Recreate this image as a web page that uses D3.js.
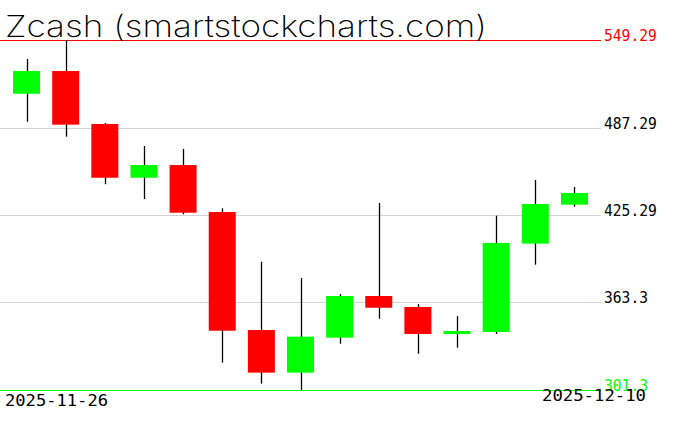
<!DOCTYPE html>
<html><head><meta charset="utf-8">
<script src="https://cdn.jsdelivr.net/npm/d3@7"></script>
<style>body{margin:0;background:#fff}svg{display:block}</style>
</head><body><svg id="c" width="676" height="431"></svg>
<script>
const dates = ["2025-11-26","2025-11-27","2025-11-28","2025-11-29","2025-11-30","2025-12-01","2025-12-02","2025-12-03","2025-12-04","2025-12-05","2025-12-06","2025-12-07","2025-12-08","2025-12-09","2025-12-10"];
const open  = [511.2,527.3,489.8,451.7,460.7,427.4,343.8,313.6,338.4,367.9,360.1,341.0,342.4,405.0,432.6];
const high  = [535.8,549.29,490.5,474.2,472.1,430.0,392.2,380.7,369.3,433.8,362.2,353.7,424.8,450.1,445.1];
const low   = [491.4,480.8,447.1,436.6,425.8,320.7,305.8,301.3,334.1,351.8,327.0,331.3,341.0,390.1,431.2];
const close = [527.3,489.3,451.7,460.7,426.9,343.3,313.6,339.1,367.9,359.6,341.0,343.1,405.5,433.1,440.9];
const tickValues = [549.29,487.29,425.29,363.3,301.3];
const tickLabels = ["549.29","487.29","425.29","363.3","301.3"];
const title = "Zcash (smartstockcharts.com)";

const svg = d3.select("#c");
const y = d3.scaleLinear().domain([301.3,549.29]).range([390,40]);
const x = d3.scaleBand().domain(dates).range([7,594]).paddingInner(0.31).paddingOuter(0.155);
const mono = "'DejaVu Sans Mono', monospace";

// grid lines
tickValues.forEach((v,i)=>{
  const col = i===0 ? "#ff0000" : (i===tickValues.length-1 ? "#00ff00" : "#d3d3d3");
  const yy = Math.round(y(v))+0.5;
  svg.append("line").attr("x1",0).attr("x2",601).attr("y1",yy).attr("y2",yy)
    .attr("stroke",col).attr("stroke-width",1);
  const tcol = i===0 ? "#ff0000" : (i===tickValues.length-1 ? "#00ff00" : "#000");
  svg.append("text").attr("x",604).attr("y",Math.round(y(v))+1)
    .attr("font-family",mono).attr("font-size",15).attr("fill",tcol)
    .attr("textLength",tickLabels[i].length*8.8).attr("lengthAdjust","spacingAndGlyphs")
    .text(tickLabels[i]);
});

const data = dates.map((d,i)=>({d,o:open[i],h:high[i],l:low[i],c:close[i]}));
const g = svg.append("g");
g.selectAll("line.w").data(data).join("line")
  .attr("x1",d=>Math.round(x(d.d)+x.bandwidth()/2)+0.5)
  .attr("x2",d=>Math.round(x(d.d)+x.bandwidth()/2)+0.5)
  .attr("y1",d=>y(d.h)).attr("y2",d=>y(d.l))
  .attr("stroke","#000").attr("stroke-width",1.3);
g.selectAll("rect").data(data).join("rect")
  .attr("x",d=>x(d.d)).attr("width",x.bandwidth())
  .attr("y",d=>y(Math.max(d.o,d.c)))
  .attr("height",d=>Math.max(1,Math.abs(y(d.o)-y(d.c))))
  .attr("fill",d=>d.c>=d.o?"#00ff00":"#ff0000");

// title
svg.append("text").attr("x",5).attr("y",37)
  .attr("font-family","Inter, 'DejaVu Sans', sans-serif").attr("font-weight",200)
  .attr("font-size",30).attr("fill","#000")
  .attr("textLength",482).attr("lengthAdjust","spacingAndGlyphs").text(title);

// date labels
svg.append("text").attr("x",5).attr("y",406)
  .attr("font-family",mono).attr("font-size",16).attr("fill","#000")
  .attr("textLength",103).attr("lengthAdjust","spacingAndGlyphs").text(dates[0]);
svg.append("text").attr("x",542).attr("y",401)
  .attr("font-family",mono).attr("font-size",16).attr("fill","#000")
  .attr("textLength",104).attr("lengthAdjust","spacingAndGlyphs").text(dates[dates.length-1]);
</script></body></html>
